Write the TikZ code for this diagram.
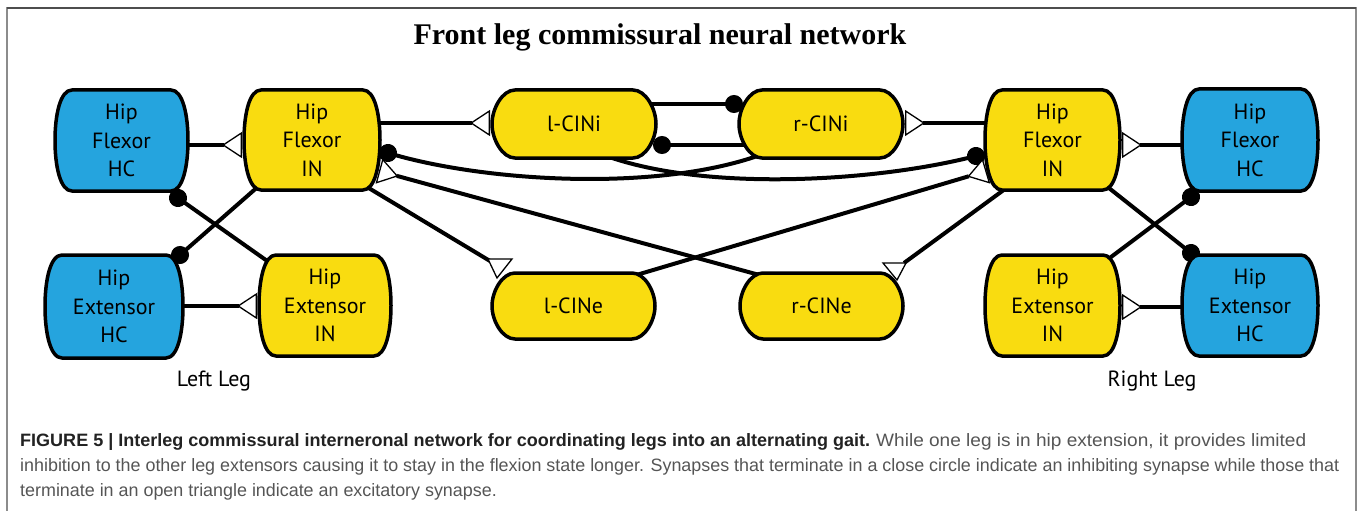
\documentclass[tikz,border=0pt]{standalone}
\usepackage{fontspec}
\usepackage{graphicx}
\setmainfont{PT Sans}
\newfontfamily\titlefont{Liberation Serif}
\newfontfamily\capfont{Liberation Sans}
\usetikzlibrary{arrows.meta,calc}
\definecolor{hcblue}{RGB}{37,164,222}
\definecolor{inyellow}{RGB}{249,220,16}
\definecolor{framegray}{RGB}{140,140,140}
\definecolor{frametop}{RGB}{77,77,77}
\definecolor{captxt}{RGB}{85,85,85}
\definecolor{capbold}{RGB}{34,34,34}
\pgfdeclarelayer{conns}
\pgfdeclarelayer{shapes}
\pgfsetlayers{conns,shapes,main}
% #1 node, #2 half width, #3 half height, #4 corner inset, #5 fill, #6 x factor, #7 y factor
\newcommand\cellshape[7]{%
  \draw[line width=3.5pt, fill=#5]
    ($(#1.center)+(-#2+#4,-#3)$) -- ($(#1.center)+(#2-#4,-#3)$)
    .. controls ($(#1.center)+(#2-#6*#4,-#3)$) and ($(#1.center)+(#2,-#7*#3)$) .. ($(#1.center)+(#2,0)$)
    .. controls ($(#1.center)+(#2,#7*#3)$) and ($(#1.center)+(#2-#6*#4,#3)$) .. ($(#1.center)+(#2-#4,#3)$)
    -- ($(#1.center)+(-#2+#4,#3)$)
    .. controls ($(#1.center)+(-#2+#6*#4,#3)$) and ($(#1.center)+(-#2,#7*#3)$) .. ($(#1.center)+(-#2,0)$)
    .. controls ($(#1.center)+(-#2,-#7*#3)$) and ($(#1.center)+(-#2+#6*#4,-#3)$) .. ($(#1.center)+(-#2+#4,-#3)$)
    -- cycle;}
\newcommand\bigcell[4]{\cellshape{#1}{#2}{#3}{17}{#4}{0.3}{0.5}}
\newcommand\cincell[3]{\cellshape{#1}{#2}{#3}{23}{inyellow}{0.45}{0.45}}
\begin{document}
\begin{tikzpicture}[x=1pt,y=-1pt,
  celltext/.style={rectangle, inner sep=0pt, align=center, font=\fontsize{22}{28.5}\selectfont},
  conn/.style={line width=4pt},
  exc/.style={conn, -{Triangle[reversed, length=20pt, width=26pt, fill=white, line width=1.3pt]}},
  inh/.style={conn, -{Circle[length=18pt]}, shorten >=-9pt},
  tri/.style={draw=black, fill=white, line width=1.3pt, line join=miter},
  legtxt/.style={font=\fontsize{22}{26}\selectfont},
  captext/.style={anchor=base west, inner sep=0pt, text=captxt, font=\capfont\fontsize{17.9}{25}\selectfont}
]
\useasboundingbox (0,0) rectangle (1358,511);
% frame
\draw[color=framegray, line width=1.5pt] (7,520) -- (7,8) -- (1356,8) -- (1356,520);
\draw[color=frametop, line width=1.5pt] (7,8) -- (1356,8);

% title
\node[anchor=base, font=\titlefont\bfseries\fontsize{30}{36}\selectfont] (title) at (660,45) {Front leg commissural neural network};

% node texts
\node[celltext] (lfhc) at (121.5,140.5) {Hip\\Flexor\\HC};
\node[celltext] (lfin) at (312,140) {Hip\\Flexor\\IN};
\node[celltext] (lehc) at (114,306.5) {Hip\\Extensor\\HC};
\node[celltext] (lein) at (325,305.5) {Hip\\Extensor\\IN};
\node[celltext] (lcini) at (574,124) {l-CINi};
\node[celltext] (rcini) at (821,124) {r-CINi};
\node[celltext] (lcine) at (573.5,306) {l-CINe};
\node[celltext] (rcine) at (821.5,306) {r-CINe};
\node[celltext] (rfin) at (1052.5,140) {Hip\\Flexor\\IN};
\node[celltext] (rfhc) at (1250,140) {Hip\\Flexor\\HC};
\node[celltext] (rein) at (1052.5,305.5) {Hip\\Extensor\\IN};
\node[celltext] (rehc) at (1250,305.5) {Hip\\Extensor\\HC};

% shapes
\begin{pgfonlayer}{shapes}
\bigcell{lfhc}{66.5}{50.5}{hcblue}
\bigcell{lfin}{68}{50}{inyellow}
\bigcell{lehc}{69}{51.5}{hcblue}
\bigcell{lein}{66}{50.5}{inyellow}
\bigcell{rfin}{67.5}{50}{inyellow}
\bigcell{rfhc}{68}{51}{hcblue}
\bigcell{rein}{67.5}{50.5}{inyellow}
\bigcell{rehc}{68}{50.5}{hcblue}
\cincell{lcini}{82}{34}
\cincell{rcini}{82}{34}
\cincell{lcine}{81.5}{33}
\cincell{rcine}{81.5}{33}
\end{pgfonlayer}

% connectors
\begin{pgfonlayer}{conns}
% left leg
\draw[exc] ($(lfhc.center)+(0,4.5)$) -- ($(lfin.center)+(-70,5)$);
\draw[exc] ($(lehc.center)+(0,-0.5)$) -- ($(lein.center)+(-68,0.5)$);
\draw[inh] ($(lein.center)+(-45,-35.5)$) -- ($(lfhc.center)+(56.5,57.5)$);
\draw[inh] ($(lfin.center)+(-43,37)$) -- ($(lehc.center)+(66,-51.5)$);
% right leg
\draw[exc] ($(rfhc.center)+(0,5)$) -- ($(rfin.center)+(69.5,5)$);
\draw[exc] ($(rehc.center)+(0,1.5)$) -- ($(rein.center)+(69.5,1.5)$);
\draw[inh] ($(rein.center)+(42.5,-36.5)$) -- ($(rfhc.center)+(-59,57)$);
\draw[inh] ($(rfin.center)+(42.5,37)$) -- ($(rehc.center)+(-59,-52.5)$);
% commissural
\draw[exc] ($(lfin.center)+(0,-17)$) -- ($(lcini.center)+(-84,-1)$);
\draw[exc] ($(rfin.center)+(0,-17)$) -- ($(rcini.center)+(84,-1)$);
\draw[inh] ($(lcini.center)+(40,-20)$) -- ($(rcini.center)+(-87,-20)$);
\draw[inh] ($(rcini.center)+(-40,21)$) -- ($(lcini.center)+(88,21)$);
\draw[inh] ($(rcini.center)+(-58,30)$) .. controls (660,192) and (490,182) .. ($(lfin.center)+(76,13)$);
\draw[inh] ($(lcini.center)+(27,30)$) .. controls (700,192) and (870,182) .. ($(rfin.center)+(-76.5,16)$);
\draw[exc] ($(rcine.center)+(-58.5,-30)$) -- ($(lfin.center)+(67,31)$);
\draw[exc] ($(lcine.center)+(59.5,-30)$) -- ($(rfin.center)+(-66,31)$);
\draw[conn] ($(lfin.center)+(50,44)$) -- ($(lcine.center)+(-83.5,-45)$);
\draw[conn] ($(rfin.center)+(-42,45)$) -- ($(rcine.center)+(82.5,-43)$);
\end{pgfonlayer}
\draw[tri] ($(lcine.center)+(-85.5,-47)$) -- ($(lcine.center)+(-61.5,-47)$) -- ($(lcine.center)+(-76.5,-28)$) -- cycle;
\draw[tri] ($(rcine.center)+(61.5,-43)$) -- ($(rcine.center)+(84.5,-43)$) -- ($(rcine.center)+(75.5,-26)$) -- cycle;

% leg labels
\node[legtxt] (lleg) at (214,381) {Left Leg};
\node[legtxt] (rleg) at (1152,381) {Right Leg};

% caption
\node[captext, text=capbold] (cap1a) at (20,446) {\resizebox{850pt}{\height}{\bfseries FIGURE 5 | Interleg commissural interneronal network for coordinating legs into an alternating gait.}};
\node[captext] (cap1b) at (876,446) {\resizebox{430pt}{\height}{While one leg is in hip extension, it provides limited}};
\node[captext] (cap2) at (20,471) {inhibition to the other leg extensors causing it to stay in the flexion state longer. Synapses that terminate in a close circle indicate an inhibiting synapse while those that};
\node[captext] (cap3) at (20,496) {terminate in an open triangle indicate an excitatory synapse.};
\end{tikzpicture}
\end{document}
